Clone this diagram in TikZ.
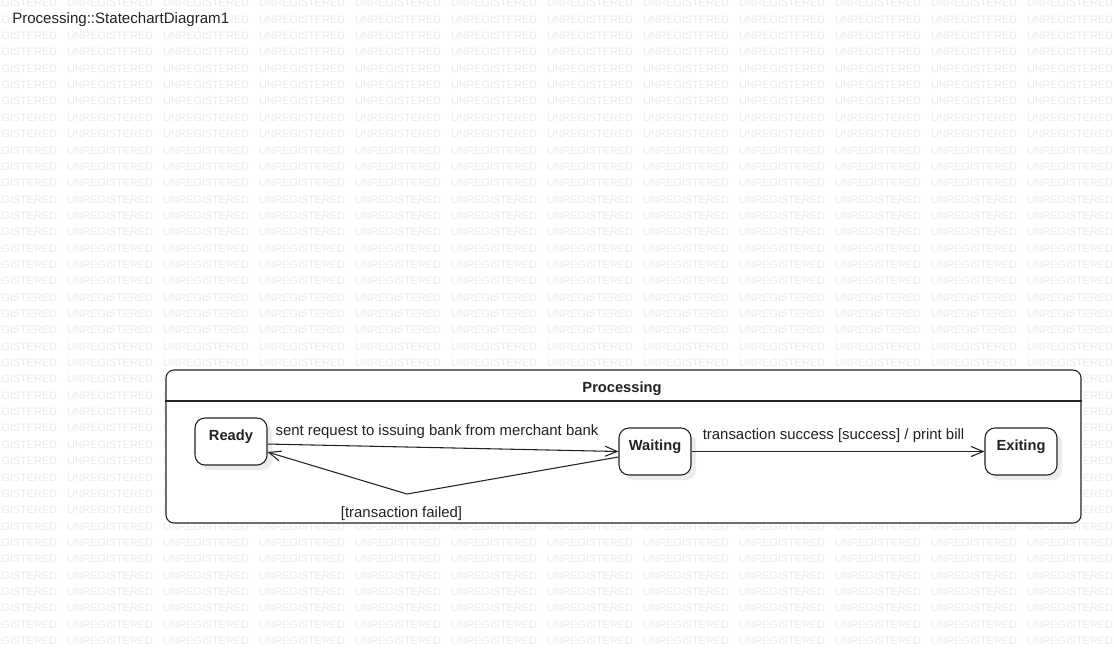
\documentclass[tikz,border=0pt]{standalone}
\usepackage{fontspec}
\setmainfont{Liberation Sans}
\usepackage{xcolor}
\usetikzlibrary{positioning,arrows.meta,calc,shadows}
\definecolor{cborde}{HTML}{222222}
\definecolor{csombra}{HTML}{ECECEC}
\definecolor{cmarca}{HTML}{EBEBEB}
\tikzset{
  marca/.style={font=\fontsize{8.1}{9}\selectfont, text=cmarca, inner sep=0pt,
    text height=5.8pt, text depth=0pt},
  compuesto/.style={rectangle, rounded corners=6pt, draw=cborde, fill=white, line width=0.8pt,
    minimum width=686.25pt, minimum height=114.75pt, inner sep=0pt},
  estado/.style={rectangle, rounded corners=7.5pt, draw=cborde, fill=white, line width=0.8pt,
    minimum width=54pt, minimum height=35.25pt, inner sep=0pt,
    font=\fontsize{11}{13}\selectfont\bfseries, text=cborde,
    text height=8pt, text depth=9.2pt,
    drop shadow={shadow xshift=3.75pt, shadow yshift=-3.75pt, fill=csombra, opacity=1}},
  cabecera/.style={font=\fontsize{11}{13}\selectfont\bfseries, text=cborde, inner sep=0pt,
    text height=8pt, text depth=0pt},
  etq/.style={font=\fontsize{11.2}{13}\selectfont, text=cborde, inner sep=0pt,
    text height=8pt, text depth=0pt},
  titulo/.style={font=\fontsize{11.3}{13}\selectfont, text=cborde, fill=white, inner sep=1.5pt,
    text height=8pt, text depth=2.4pt},
  linea/.style={draw=cborde, line width=0.8pt},
  flecha/.style={-{Straight Barb[length=9pt, width=7.5pt]}, draw=cborde, line width=0.8pt},
}
\begin{document}
\begin{tikzpicture}[x=0.75pt, y=-0.75pt]
  \fill[white] (0,0) rectangle (1114,651);
  \useasboundingbox (0,0) rectangle (1114,651);
  \foreach \r in {0,...,39}
    \foreach \c in {0,...,11}{
      \pgfmathsetmacro\mx{14+96*\c}
      \pgfmathsetmacro\my{3+16.35*\r}
      \pgfmathtruncatemacro\tapado{and(and(\mx-43>166, \mx+43<1081), and(\my-4>370, \my+4<523))}
      \ifnum\tapado=0
        \node[marca] at (\mx,\my) {UNREGISTERED};
      \fi
    }
  \node[titulo, anchor=west] (diag) at (10,20) {Processing::StatechartDiagram1};
  \node[compuesto] (proc) at (623.5,446.5) {};
  \node[cabecera] (nproc) at (622,387) {Processing};
  \draw[linea] (proc.west |- 0,401) -- (proc.east |- 0,401);
  \node[estado] (ready) at (231,441.5) {Ready};
  \node[estado] (waiting) at (655,451.5) {Waiting};
  \node[estado] (exiting) at (1021,451.5) {Exiting};
  \coordinate (codo) at (407,494);
  \draw[flecha] ([yshift=-1.9pt]ready.east) -- (waiting.west);
  \draw[flecha] (waiting.east) -- (exiting.west);
  \draw[flecha] ([yshift=-4.1pt]waiting.west) -- (codo) -- ([yshift=-7.9pt]ready.east);
  \node[etq] (lreq) at (437,430.5) {sent request to issuing bank from merchant bank};
  \node[etq] (lok) at (833.5,434) {transaction success [success] / print bill};
  \node[etq] (lfail) at (401.5,512.5) {[transaction failed]};
\end{tikzpicture}
\end{document}
